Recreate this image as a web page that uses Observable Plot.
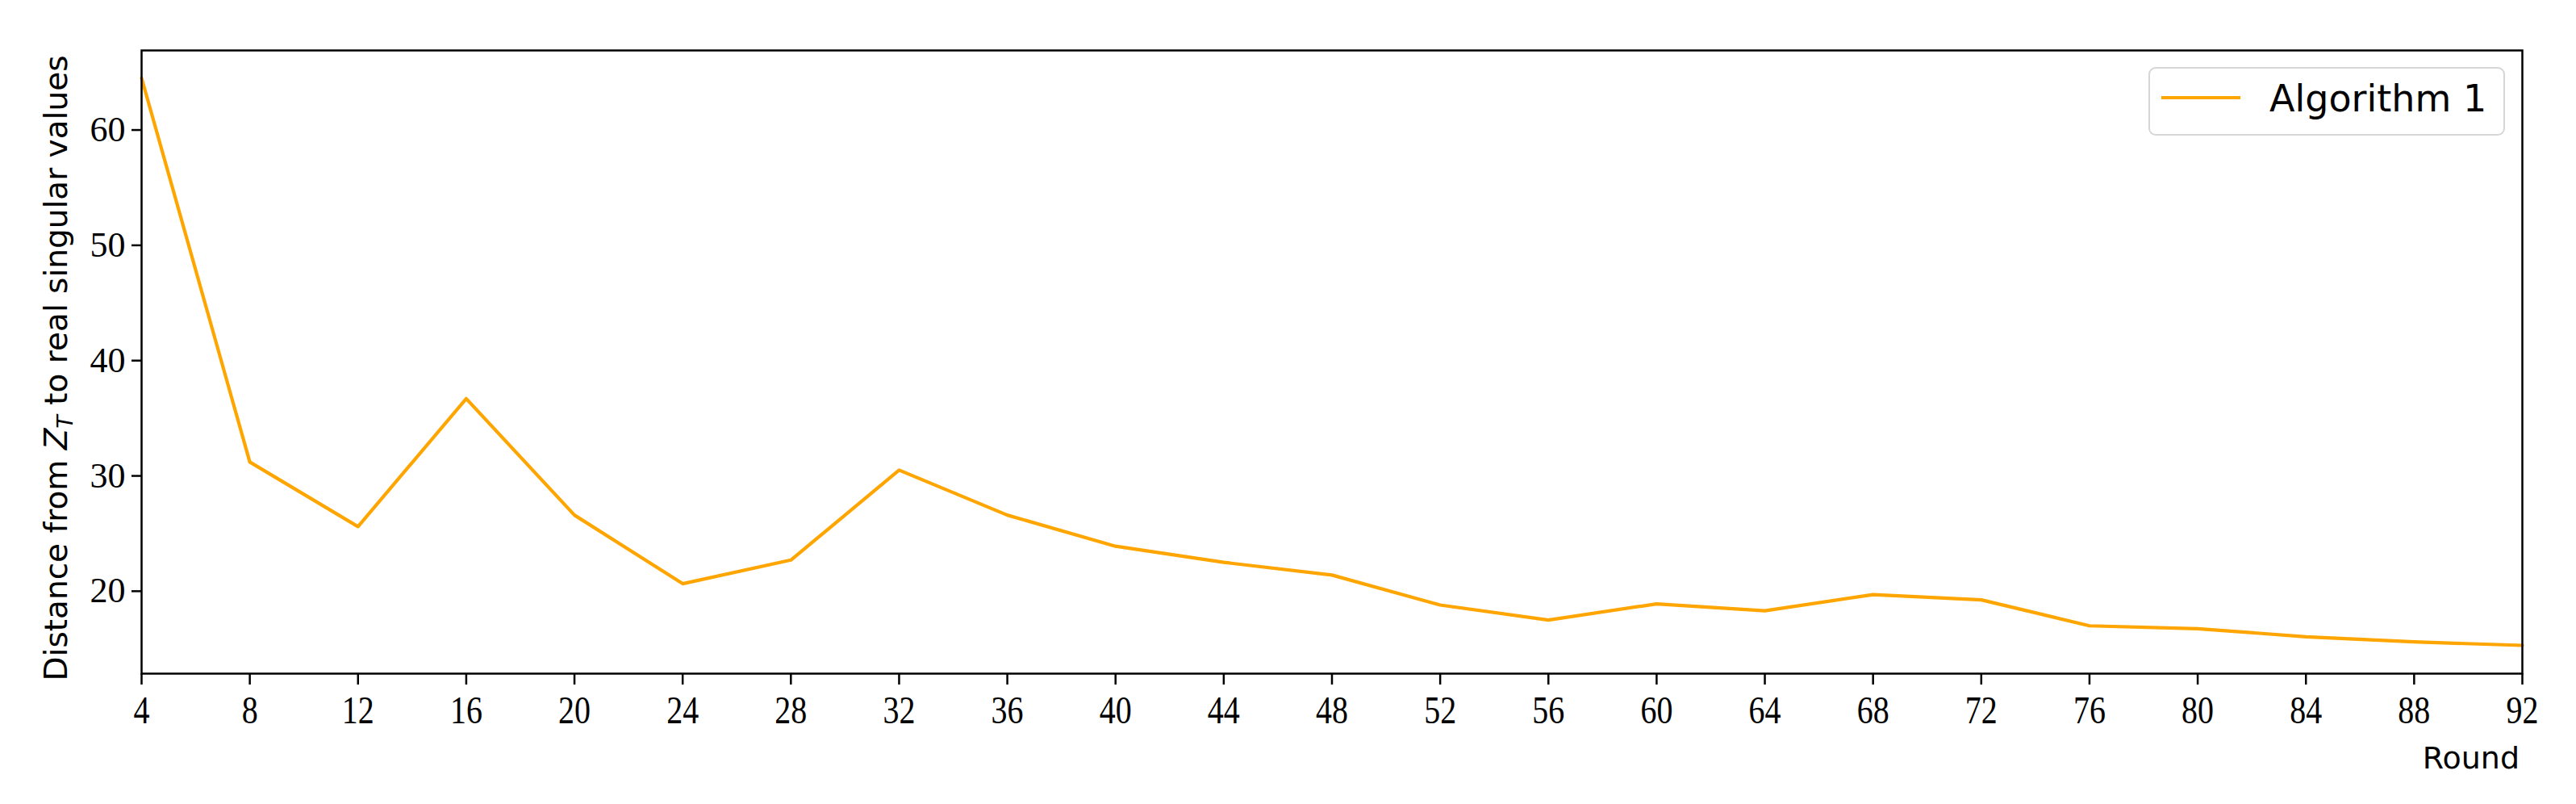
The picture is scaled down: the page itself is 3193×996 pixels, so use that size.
<!DOCTYPE html>
<html><head><meta charset="utf-8">
<script src="https://cdn.jsdelivr.net/npm/d3@7"></script>
<script src="https://cdn.jsdelivr.net/npm/@observablehq/plot@0.6"></script>
<style>
html,body{margin:0;padding:0;background:#fff;}
#chart svg{display:block;}
</style>
</head><body><div id="chart"></div>
<script>
const rounds = [4, 8, 12, 16, 20, 24, 28, 32, 36, 40, 44, 48, 52, 56, 60, 64, 68, 72, 76, 80, 84, 88, 92];
const distances = [64.5, 31.2, 25.6, 36.7, 26.6, 20.65, 22.7, 30.5, 26.6, 23.9, 22.5, 21.4, 18.8, 17.5, 18.9, 18.3, 19.7, 19.25, 17.0, 16.75, 16.05, 15.6, 15.3];
const xTicks = [4, 8, 12, 16, 20, 24, 28, 32, 36, 40, 44, 48, 52, 56, 60, 64, 68, 72, 76, 80, 84, 88, 92];
const yTicks = [20, 30, 40, 50, 60];
const seriesName = "Algorithm 1";
const xLabel = "Round";
const yLabelBefore = "Distance from ";
const yLabelVar = "Z";
const yLabelSub = "T";
const yLabelAfter = " to real singular values";
const lineColor = "#FFA500";

const data = rounds.map((r, i) => ({round: r, dist: distances[i]}));

const W = 3193, H = 996, mL = 175, mR = 67, mT = 62, mB = 162;
const chart = Plot.plot({
  width: W, height: H,
  marginLeft: mL, marginRight: mR, marginTop: mT, marginBottom: mB,
  style: {background: "#fff", color: "#000"},
  x: {domain: [4, 92]},
  y: {domain: [12.85, 66.9]},
  marks: [
    Plot.line(data, {x: "round", y: "dist", stroke: lineColor, strokeWidth: 4.2}),
    Plot.frame({stroke: "#000", strokeWidth: 2.5}),
    Plot.axisX({ticks: xTicks, tickFormat: d => String(d), tickSize: 14, tickPadding: 13,
      fontSize: 40, fontFamily: "Liberation Serif", strokeWidth: 2.5, label: null}),
    Plot.axisY({ticks: yTicks, tickFormat: d => String(d), tickSize: 12, tickPadding: 8,
      fontSize: 44, fontFamily: "Liberation Serif", strokeWidth: 2.5, label: null})
  ]
});
document.getElementById("chart").appendChild(chart);

const svg = d3.select(chart);
// vertically stretch x tick labels as in the reference
svg.selectAll('g[aria-label="x-axis tick label"] text').each(function() {
  const t = this.getAttribute("transform") || "";
  this.setAttribute("transform", t + " scale(1,1.22)");
});

// y label with italic Z and subscript T
const yl = svg.append("text")
  .attr("transform", "translate(83,456) rotate(-90)")
  .attr("text-anchor", "middle")
  .attr("font-family", "DejaVu Sans")
  .attr("font-size", 39)
  .attr("fill", "#000");
yl.append("tspan").text(yLabelBefore);
yl.append("tspan").attr("font-style", "italic").text(yLabelVar);
yl.append("tspan").attr("font-style", "italic").attr("font-size", 27).attr("dy", 7).text(yLabelSub);
yl.append("tspan").attr("dy", -7).text(yLabelAfter);

// x label
svg.append("text")
  .attr("x", 3123).attr("y", 952)
  .attr("text-anchor", "end")
  .attr("font-family", "DejaVu Sans")
  .attr("font-size", 38)
  .attr("fill", "#000")
  .text(xLabel);

// legend
const lg = svg.append("g");
lg.append("rect").attr("x", 2664).attr("y", 84).attr("width", 440).attr("height", 83)
  .attr("rx", 8).attr("fill", "#fff").attr("stroke", "#d6d6d6").attr("stroke-width", 2);
lg.append("line").attr("x1", 2679).attr("x2", 2777).attr("y1", 121).attr("y2", 121)
  .attr("stroke", lineColor).attr("stroke-width", 4.2);
lg.append("text").attr("x", 2813).attr("y", 138)
  .attr("text-anchor", "start")
  .attr("font-family", "DejaVu Sans").attr("font-size", 46).attr("fill", "#000")
  .text(seriesName);
</script>
</body></html>
